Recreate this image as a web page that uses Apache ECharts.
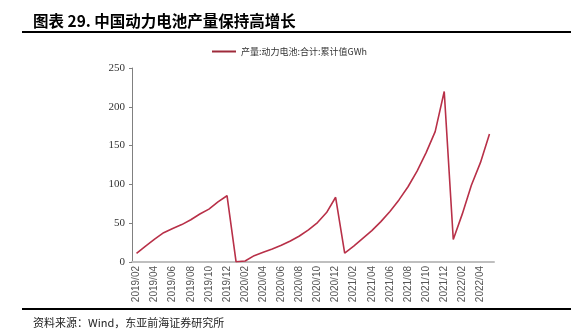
<!DOCTYPE html>
<html><head><meta charset="utf-8">
<script src="https://cdn.jsdelivr.net/npm/echarts@6/dist/echarts.min.js"></script>
<style>html,body{margin:0;padding:0;background:#fff}#c{width:571px;height:333px}</style>
</head><body><div id="c"></div>
<script>
const titleText = '图表 29. 中国动力电池产量保持高增长';
const sourceText = '资料来源：Wind，东亚前海证券研究所';
const seriesName = '产量:动力电池:合计:累计值GWh';
const months = ['2019/02','2019/03','2019/04','2019/05','2019/06','2019/07','2019/08','2019/09','2019/10','2019/11','2019/12',
'2020/01','2020/02','2020/03','2020/04','2020/05','2020/06','2020/07','2020/08','2020/09','2020/10','2020/11','2020/12',
'2021/01','2021/02','2021/03','2021/04','2021/05','2021/06','2021/07','2021/08','2021/09','2021/10','2021/11','2021/12',
'2022/01','2022/02','2022/03','2022/04','2022/05'];
const values = [11.2,20.5,29.5,37.8,43.2,48.2,54.5,61.8,68.2,77.5,85.4,
0.3,1.3,8.2,12.5,16.8,21.5,27.0,33.5,41.3,50.8,63.7,83.4,
11.5,20.5,30.5,40.5,52.0,65.0,80.0,97.0,117.0,141.0,168.0,219.7,
29.0,62.0,99.0,128.0,165.0];
const yTicks = [0,50,100,150,200,250];

const chart = echarts.init(document.getElementById('c'));
chart.setOption({
  animation:false,
  backgroundColor:'#fff',
  legend:{
    data:[seriesName], top:42, left:207, itemWidth:24, itemHeight:2, itemGap:3,
    icon:'rect',
    textStyle:{fontFamily:'"Noto Sans CJK SC", "Liberation Serif", serif', fontSize:9, color:'#333'}
  },
  grid:{left:132, right:77, top:68, bottom:71},
  xAxis:{
    type:'category', data:months, boundaryGap:true,
    axisLine:{lineStyle:{color:'#bfbfbf', width:2}},
    axisTick:{show:false},
    axisLabel:{interval:1, rotate:90, fontSize:10, color:'#555', fontFamily:'"Liberation Sans", Arial, sans-serif', margin:4}
  },
  yAxis:{
    type:'value', min:yTicks[0], max:yTicks[yTicks.length-1], interval:50,
    splitLine:{show:false},
    axisLine:{show:true, lineStyle:{color:'#808080', width:1}},
    axisTick:{show:true, length:3, lineStyle:{color:'#808080'}},
    axisLabel:{fontSize:11, color:'#333', fontFamily:'"Liberation Serif", "Times New Roman", serif', margin:7}
  },
  series:[{
    name:seriesName, type:'line', data:values, symbol:'none',
    lineStyle:{color:'#B83048', width:1.6}, itemStyle:{color:'#9E2A3A'}
  }],
  graphic:[
    {type:'text', left:33, top:13, style:{text:titleText, font:'bold 15.5px "Noto Sans CJK SC", sans-serif', fill:'#000'}},
    {type:'rect', shape:{x:22, y:31, width:549, height:2}, style:{fill:'#000'}},
    {type:'rect', shape:{x:22, y:308, width:549, height:2}, style:{fill:'#000'}},
    {type:'text', left:33, top:317, style:{text:sourceText, font:'11px "Noto Sans CJK SC", serif', fill:'#222'}}
  ]
});
</script></body></html>
